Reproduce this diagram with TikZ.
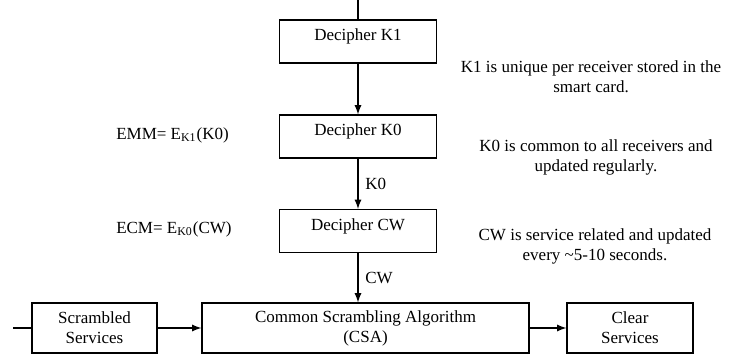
\documentclass[tikz,border=0pt]{standalone}
\usepackage{fontspec}
\setmainfont{Liberation Serif}
\usetikzlibrary{arrows}

\begin{document}
\begin{tikzpicture}[x=0.5pt, y=-0.5pt, >=latex, line width=0.6pt,
  every node/.style={font=\fontsize{8.5}{10}\selectfont},
  decbox/.style={draw, minimum width=78.5pt, minimum height=21.5pt, inner sep=0pt,
    text height=6pt, text depth=7pt},
  flowbox/.style={draw, minimum height=25pt, inner sep=0pt, align=center}]
  \useasboundingbox (0,0) rectangle (731,354);
  % key ladder
    \coordinate (in) at (358,0);
  \node[decbox] (k1) at (358,41.5) {Decipher K1};
  \node[decbox] (k0) at (358,136.5) {Decipher K0};
  \node[decbox] (cw) at (358,231) {Decipher CW};
  \draw (in) -- (k1) ; % incoming key
  \draw [->] (k1) -- (k0) ;
  \draw [->] (k0) -- (cw) node[midway,right] (lk0) {K0};
  % messages on the left
  \node[anchor=west] (emm) at (109,135) {EMM= E\textsubscript{K1}(K0)};
  \node[anchor=west] (ecm) at (109,229) {ECM= E\textsubscript{K0}(CW)};
  % notes on the right
  \node[align=center] (k1note) at (591,77) {K1 is unique per receiver stored in the\\ smart card.};
  \node[align=center] (k0note) at (596,157) {K0 is common to all receivers and\\ updated regularly.};
  \node[align=center] (cwnote) at (595,246) {CW is service related and updated\\ every \textasciitilde5-10 seconds.};

% scrambling chain
    \coordinate (src) at (13,328);
  \node[flowbox, minimum width=62.5pt] (scr) at (94.5,328) {Scrambled\\ Services};
  \node[flowbox, minimum width=163.5pt] (csa) at (365.5,328) {Common Scrambling Algorithm\\ (CSA)};
  \node[flowbox, minimum width=63pt] (clr) at (630,328) {Clear\\ Services};
  \draw [->] (cw) -- (cw.south |- csa.north) node[midway,right] (lcw) {CW};
  \draw (src) -- (scr) ;
  \draw [->] (scr) -- (csa) ;
  \draw [->] (csa) -- (clr) ;
\end{tikzpicture}
\end{document}
